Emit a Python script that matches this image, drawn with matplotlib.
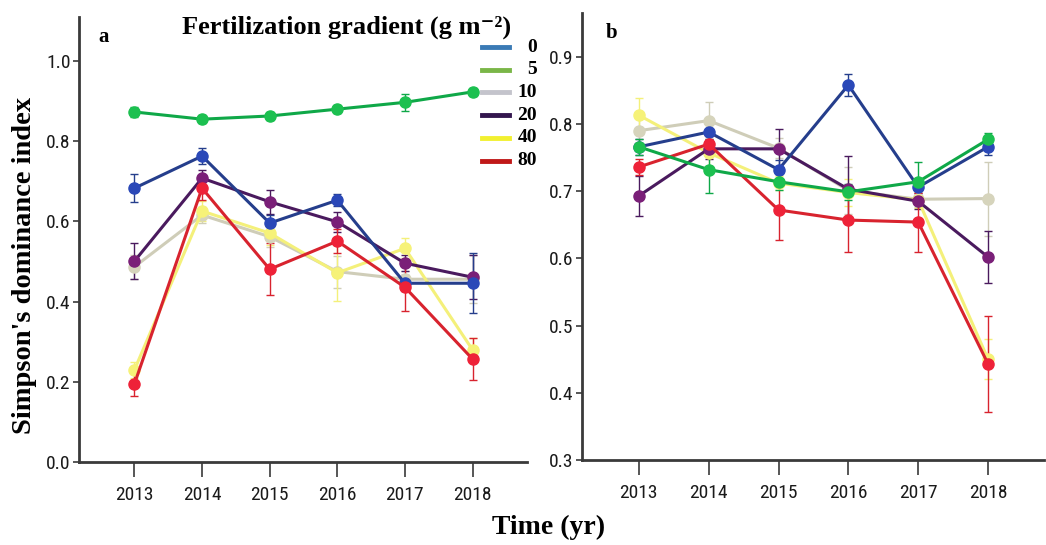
import matplotlib

matplotlib.use("Agg")
import matplotlib.pyplot as plt
from matplotlib.lines import Line2D
from matplotlib import font_manager
import numpy as np

YEARS = [2013, 2014, 2015, 2016, 2017, 2018]
LEVELS = ["0", "5", "10", "20", "40", "80"]

# panel a: mean and half error bar per fertilization level
A_MEAN = {
    "0": [0.683, 0.763, 0.596, 0.653, 0.446, 0.446],
    "5": [0.873, 0.855, 0.863, 0.880, 0.897, 0.923],
    "10": [0.487, 0.616, 0.562, 0.475, 0.456, 0.456],
    "20": [0.501, 0.708, 0.649, 0.599, 0.496, 0.461],
    "40": [0.230, 0.626, 0.571, 0.472, 0.533, 0.280],
    "80": [0.195, 0.683, 0.481, 0.551, 0.436, 0.257],
}
A_ERR = {
    "0": [0.035, 0.020, 0.020, 0.015, 0.020, 0.075],
    "5": [0.012, 0.010, 0.010, 0.010, 0.022, 0.010],
    "10": [0.030, 0.020, 0.025, 0.040, 0.020, 0.060],
    "20": [0.045, 0.020, 0.030, 0.025, 0.020, 0.055],
    "40": [0.020, 0.025, 0.030, 0.070, 0.025, 0.030],
    "80": [0.030, 0.030, 0.065, 0.030, 0.060, 0.052],
}

# panel b
B_MEAN = {
    "0": [0.766, 0.788, 0.732, 0.858, 0.706, 0.766],
    "5": [0.766, 0.732, 0.714, 0.699, 0.714, 0.777],
    "10": [0.790, 0.805, 0.764, 0.701, 0.688, 0.689],
    "20": [0.693, 0.763, 0.763, 0.703, 0.685, 0.602],
    "40": [0.813, 0.757, 0.712, 0.698, 0.687, 0.450],
    "80": [0.736, 0.770, 0.672, 0.657, 0.654, 0.443],
}
B_ERR = {
    "0": [0.012, 0.012, 0.015, 0.016, 0.012, 0.012],
    "5": [0.012, 0.035, 0.012, 0.012, 0.030, 0.010],
    "10": [0.020, 0.028, 0.015, 0.035, 0.012, 0.055],
    "20": [0.030, 0.015, 0.030, 0.050, 0.012, 0.038],
    "40": [0.025, 0.020, 0.010, 0.020, 0.012, 0.030],
    "80": [0.012, 0.012, 0.045, 0.048, 0.044, 0.071],
}

LINE_C = {"0": "#253e8c", "5": "#0fa848", "10": "#cfcdb8", "20": "#4a1a5e",
          "40": "#f4f07a", "80": "#d8232e"}
MARK_C = {"0": "#2a48b8", "5": "#1cc050", "10": "#d6d4bc", "20": "#7a1f78",
          "40": "#f6f278", "80": "#ee2238"}
LEG_C = {"0": "#3a7ab5", "5": "#7ab648", "10": "#c4c4cc", "20": "#33164e",
         "40": "#f2f030", "80": "#c01818"}
ORDER = ["10", "40", "20", "0", "80", "5"]

SERIF = ["Liberation Serif", "DejaVu Serif"]
installed = {f.name for f in font_manager.fontManager.ttflist}
NARROW = [f for f in ["Liberation Sans Narrow", "Roboto Condensed", "DejaVu Sans Condensed"]
          if f in installed]
TICKF = NARROW[0] if NARROW else "Liberation Sans"
TICKSIZE = 14 if NARROW else 12.5
AXC = "#3a3a3a"


def draw(ax, mean, err, ylim, yticks):
    for k in ORDER:
        ax.errorbar(YEARS, mean[k], yerr=err[k], color=LINE_C[k], lw=2.2,
                    marker="o", ms=8, mfc=MARK_C[k], mec=MARK_C[k],
                    ecolor=LINE_C[k], elinewidth=1, capsize=3, capthick=1,
                    zorder=3)
    ax.set_xlim(2012.18, 2018.8)
    ax.set_ylim(*ylim)
    ax.set_xticks(YEARS)
    ax.set_yticks(yticks)
    ax.set_yticklabels([f"{t:.1f}" for t in yticks])
    for s in ["top", "right"]:
        ax.spines[s].set_visible(False)
    for s in ["left", "bottom"]:
        ax.spines[s].set_color(AXC)
        ax.spines[s].set_linewidth(2)
    ax.tick_params(axis="x", length=11, width=1.2, color=AXC, pad=6)
    ax.tick_params(axis="y", length=4, width=1.2, color=AXC, pad=2)
    for lab in ax.get_xticklabels() + ax.get_yticklabels():
        lab.set_family(TICKF)
        lab.set_fontsize(TICKSIZE)
        lab.set_color("#1a1a1a")


fig = plt.figure(figsize=(10.46, 5.45), dpi=100)
ax_a = fig.add_axes([0.0755, 0.152, 0.428, 0.817])
ax_b = fig.add_axes([0.556, 0.156, 0.442, 0.820])

draw(ax_a, A_MEAN, A_ERR, (0, 1.11), np.arange(0, 1.01, 0.2))
draw(ax_b, B_MEAN, B_ERR, (0.3, 0.965), np.arange(0.3, 0.91, 0.1))

ax_a.text(0.044, 0.955, "a", transform=ax_a.transAxes, family=SERIF,
          fontweight="bold", fontsize=15, va="center")
ax_b.text(0.052, 0.955, "b", transform=ax_b.transAxes, family=SERIF,
          fontweight="bold", fontsize=15, va="center")

fig.text(0.331, 0.95, "Fertilization gradient (g m\u207b\u00b2)", family=SERIF,
         fontweight="bold", fontsize=19, ha="center", va="center")

# legend drawn as short line handles with right-aligned labels
for i, k in enumerate(LEVELS):
    y = 1 - (47 + 22.7 * i) / 545
    fig.add_artist(Line2D([482 / 1046, 509 / 1046], [y, y], color=LEG_C[k], lw=3.5))
    fig.text(537 / 1046, y, k, family=SERIF, fontweight="bold", fontsize=14,
             ha="right", va="center")

fig.text(0.023, 0.512, "Simpson's dominance index", family=SERIF, fontweight="bold",
         fontsize=20.5, rotation=90, ha="center", va="center")
fig.text(0.524, 0.033, "Time (yr)", family=SERIF, fontweight="bold", fontsize=20,
         ha="center", va="center")

fig.savefig("out.png", dpi=100)
